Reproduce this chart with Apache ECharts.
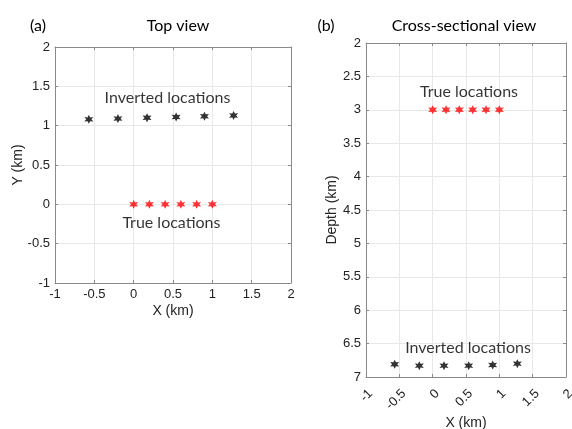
<!DOCTYPE html>
<html>
<head>
<meta charset="utf-8">
<script src="https://cdn.jsdelivr.net/npm/echarts@6/dist/echarts.min.js"></script>
<style>html,body{margin:0;padding:0;background:#fff}#c{width:572px;height:429px}</style>
</head>
<body>
<div id="c"></div>
<script>
// ---- data ----
var trueX = [0, 0.2, 0.4, 0.6, 0.8, 1.0];
var trueY = [0, 0, 0, 0, 0, 0];
var trueDepth = [3, 3, 3, 3, 3, 3];
var invX = [-0.57, -0.20, 0.17, 0.54, 0.90, 1.27];
var invY = [1.08, 1.09, 1.10, 1.11, 1.12, 1.13];
var invDepth = [6.81, 6.83, 6.83, 6.83, 6.82, 6.80];
var xTicks = [-1, -0.5, 0, 0.5, 1, 1.5, 2];
var yTicksTop = [-1, -0.5, 0, 0.5, 1, 1.5, 2];
var depthTicks = [2, 2.5, 3, 3.5, 4, 4.5, 5, 5.5, 6, 6.5, 7];
var annTop = [["Inverted locations", 0.43, 1.35], ["True locations", 0.48, -0.24]];
var annSide = [["True locations", 0.545, 2.735], ["Inverted locations", 0.53, 6.56]];

function zip(a, b) { return a.map(function (v, i) { return [v, b[i]]; }); }

var star = 'path://M0 -10 L2.5 -4.33 L8.66 -5 L5 0 L8.66 5 L2.5 4.33 L0 10 L-2.5 4.33 L-8.66 5 L-5 0 L-8.66 -5 L-2.5 -4.33 Z';
var axisCol = '#8a8a8a';
var txtCol = '#222222';
var tickFont = '"Liberation Sans", Arial, sans-serif';
var annFont = 'Lato';

function mainAxis(gi, pos, min, max, interval, extra) {
  var o = {
    type: 'value', gridIndex: gi, position: pos, min: min, max: max, interval: interval,
    nameMoveOverlap: false,
    axisLine: { show: true, onZero: false, lineStyle: { color: axisCol, width: 1 } },
    axisTick: { show: true, inside: true, length: 3, lineStyle: { color: axisCol } },
    axisLabel: { color: txtCol, fontFamily: tickFont, fontSize: 13, margin: 5 },
    splitLine: { show: true, lineStyle: { color: '#e8e8e8', width: 1 } },
    nameTextStyle: { color: txtCol, fontFamily: tickFont, fontSize: 14 }
  };
  for (var k in extra) o[k] = extra[k];
  return o;
}
function boxAxis(gi, pos, min, max, interval, inverse) {
  return {
    type: 'value', gridIndex: gi, position: pos, min: min, max: max, interval: interval, inverse: !!inverse,
    axisLine: { show: true, onZero: false, lineStyle: { color: axisCol, width: 1 } },
    axisTick: { show: true, inside: true, length: 3, lineStyle: { color: axisCol } },
    axisLabel: { show: false }, splitLine: { show: false }
  };
}
function annSeries(arr, xi, yi) {
  return {
    type: 'scatter', xAxisIndex: xi, yAxisIndex: yi, symbol: 'circle', symbolSize: 1, silent: true,
    itemStyle: { color: 'rgba(0,0,0,0)' },
    data: arr.map(function (a) { return { value: [a[1], a[2]], name: a[0] }; }),
    label: { show: true, position: 'inside', formatter: '{b}', color: '#000', fontFamily: annFont, fontSize: 16 }
  };
}
var titleStyle = { fontFamily: annFont, fontSize: 16, fontWeight: 'normal', color: '#000' };

var chart = echarts.init(document.getElementById('c'), null, { renderer: 'canvas' });
chart.setOption({
  animation: false,
  backgroundColor: '#fff',
  title: [
    { text: '(a)', left: 33, top: 21, textAlign: 'center', textVerticalAlign: 'middle', textStyle: titleStyle },
    { text: 'Top view', left: 173, top: 21, textAlign: 'center', textVerticalAlign: 'middle', textStyle: titleStyle },
    { text: '(b)', left: 321, top: 21, textAlign: 'center', textVerticalAlign: 'middle', textStyle: titleStyle },
    { text: 'Cross-sectional view', left: 459, top: 21, textAlign: 'center', textVerticalAlign: 'middle', textStyle: titleStyle }
  ],
  grid: [
    { left: 55, top: 47, width: 236, height: 236, outerBoundsMode: 'none', containLabel: false },
    { left: 366, top: 43, width: 200, height: 334, outerBoundsMode: 'none', containLabel: false }
  ],
  xAxis: [
    mainAxis(0, 'bottom', xTicks[0], xTicks[xTicks.length - 1], 0.5, { name: 'X (km)', nameLocation: 'middle', nameGap: 21 }),
    boxAxis(0, 'top', xTicks[0], xTicks[xTicks.length - 1], 0.5),
    mainAxis(1, 'bottom', xTicks[0], xTicks[xTicks.length - 1], 0.5, { name: 'X (km)', nameLocation: 'middle', nameGap: 39 }),
    boxAxis(1, 'top', xTicks[0], xTicks[xTicks.length - 1], 0.5)
  ],
  yAxis: [
    mainAxis(0, 'left', yTicksTop[0], yTicksTop[yTicksTop.length - 1], 0.5, { name: 'Y (km)', nameLocation: 'middle', nameGap: 30 }),
    boxAxis(0, 'right', yTicksTop[0], yTicksTop[yTicksTop.length - 1], 0.5),
    mainAxis(1, 'left', depthTicks[0], depthTicks[depthTicks.length - 1], 0.5, { name: 'Depth (km)', nameLocation: 'middle', nameGap: 27, inverse: true }),
    boxAxis(1, 'right', depthTicks[0], depthTicks[depthTicks.length - 1], 0.5, true)
  ],
  series: [
    { type: 'scatter', xAxisIndex: 0, yAxisIndex: 0, symbol: star, symbolSize: 9, itemStyle: { color: '#000' }, data: zip(invX, invY) },
    { type: 'scatter', xAxisIndex: 0, yAxisIndex: 0, symbol: star, symbolSize: 9, itemStyle: { color: '#ff0000' }, data: zip(trueX, trueY) },
    { type: 'scatter', xAxisIndex: 2, yAxisIndex: 2, symbol: star, symbolSize: 9, itemStyle: { color: '#ff0000' }, data: zip(trueX, trueDepth) },
    { type: 'scatter', xAxisIndex: 2, yAxisIndex: 2, symbol: star, symbolSize: 9, itemStyle: { color: '#000' }, data: zip(invX, invDepth) },
    annSeries(annTop, 0, 0),
    annSeries(annSide, 2, 2)
  ]
});
// rotate the x tick labels of the cross-section panel
chart.setOption({ xAxis: [{}, {}, { axisLabel: { rotate: 45, margin: 10, align: 'right', verticalAlign: 'top' } }, {}] });
</script>
</body>
</html>
